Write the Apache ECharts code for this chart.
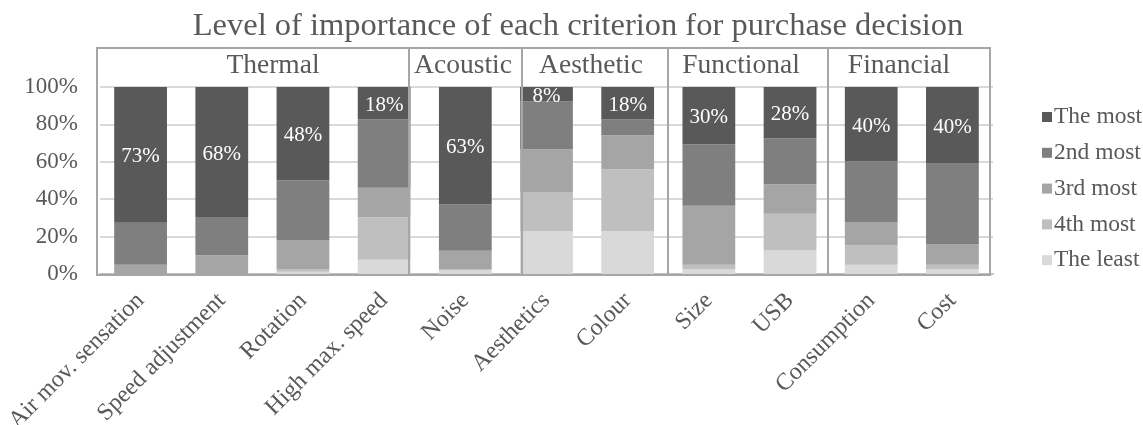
<!DOCTYPE html>
<html>
<head>
<meta charset="utf-8">
<script src="https://cdn.jsdelivr.net/npm/echarts@6/dist/echarts.min.js"></script>
<style>
  html, body { margin: 0; padding: 0; background: #fff; }
  #chart { width: 1143px; height: 425px; }
</style>
</head>
<body>
<div id="chart"></div>
<script>
// criteria (x axis)
const categories = ['Air mov. sensation', 'Speed adjustment', 'Rotation', 'High max. speed', 'Noise',
  'Aesthetics', 'Colour', 'Size', 'USB', 'Consumption', 'Cost'];

// raw answers in %, per importance level (Excel 100% stack normalises them)
const theMost    = [73, 68, 48, 18, 63, 8, 18, 30, 28, 40, 40];
const secondMost = [22.5, 20, 31, 38, 24.8, 26.6, 8.8, 32.3, 25.1, 33, 42.8];
const thirdMost  = [5, 9.8, 14.7, 16.3, 9.8, 23.8, 18.9, 30.9, 16.1, 12.4, 10.6];
const fourthMost = [0, 0, 1.4, 23.7, 0.7, 21.6, 34.3, 2.3, 20.1, 10.4, 2.3];
const theLeast   = [0, 0, 1.2, 7.9, 2, 23.9, 23.9, 2.6, 12.8, 5, 2.6];

const levelNames = ['The most', '2nd most', '3rd most', '4th most', 'The least'];
const yTicks = [0, 20, 40, 60, 80, 100];
const groupNames = ['Thermal', 'Acoustic', 'Aesthetic', 'Functional', 'Financial'];

// box layout of the group headers (pixels), drawn over the plot
const groupBoxes = [[97, 409], [409, 522], [522, 668], [668, 828], [828, 990]];
const groupTextX = [273, 463, 591, 741, 899];

const font = 'Liberation Serif, Times New Roman, serif';
const textColor = '#595959';
const colors = ['#595959', '#7f7f7f', '#a5a5a5', '#bfbfbf', '#d9d9d9'];

const levels = [theMost, secondMost, thirdMost, fourthMost, theLeast];
const totals = categories.map((c, i) => levels.reduce((s, arr) => s + arr[i], 0));
const norm = arr => arr.map((v, i) => v / totals[i] * 100);

let chart = echarts.init(document.getElementById('chart'));

// bottom of the stack first
let series = [];
for (let k = levels.length - 1; k >= 0; k--) {
  let s = {
    name: levelNames[k],
    type: 'bar',
    stack: 'all',
    barWidth: '65%',
    data: norm(levels[k]),
    itemStyle: { color: colors[k] },
    emphasis: { disabled: true },
  };
  if (k === 0) {
    s.label = {
      show: true,
      position: 'inside',
      offset: [0, 2],
      color: '#fff',
      fontFamily: font,
      fontSize: 21,
      formatter: p => theMost[p.dataIndex] + '%',
    };
  }
  series.push(s);
}

let graphics = [];
groupBoxes.forEach((b, i) => {
  graphics.push({
    type: 'rect',
    z: 100,
    shape: { x: b[0], y: 48, width: b[1] - b[0], height: 227 },
    style: { fill: null, stroke: '#a6a6a6', lineWidth: 2 },
  });
  graphics.push({
    type: 'text',
    z: 100,
    style: {
      text: groupNames[i],
      x: groupTextX[i],
      y: 66,
      fontFamily: font,
      fontSize: 27.5,
      fill: textColor,
      align: 'center',
      verticalAlign: 'middle',
      textAlign: 'center',
      textVerticalAlign: 'middle',
    },
  });
});

let option = {
  animation: false,
  title: {
    text: 'Level of importance of each criterion for purchase decision',
    left: 573,
    textAlign: 'center',
    top: 5,
    textStyle: { fontFamily: font, fontSize: 32.5, fontWeight: 'normal', color: textColor },
  },
  legend: {
    data: levelNames,
    orient: 'vertical',
    left: 1037,
    top: 100,
    itemWidth: 10,
    itemHeight: 10,
    itemGap: 11.8,
    icon: 'rect',
    textStyle: { fontFamily: font, fontSize: 23.5, color: textColor, padding: [0, 0, 0, -3] },
  },
  grid: { left: 100, right: 150, top: 87, bottom: 151, containLabel: false, outerBoundsMode: 'none' },
  xAxis: {
    type: 'category',
    data: categories,
    axisTick: { show: false },
    axisLine: { lineStyle: { color: '#bfbfbf', width: 2 } },
    axisLabel: {
      rotate: 45,
      margin: 23,
      interval: 0,
      fontFamily: font,
      fontSize: 24,
      color: textColor,
    },
  },
  yAxis: {
    type: 'value',
    min: yTicks[0],
    max: yTicks[yTicks.length - 1],
    interval: yTicks[1] - yTicks[0],
    axisLabel: { formatter: '{value}%', margin: 22, fontFamily: font, fontSize: 23, color: textColor },
    splitLine: { lineStyle: { color: '#d9d9d9', width: 2 } },
  },
  graphic: graphics,
  series: series,
};
chart.setOption(option);
</script>
</body>
</html>
